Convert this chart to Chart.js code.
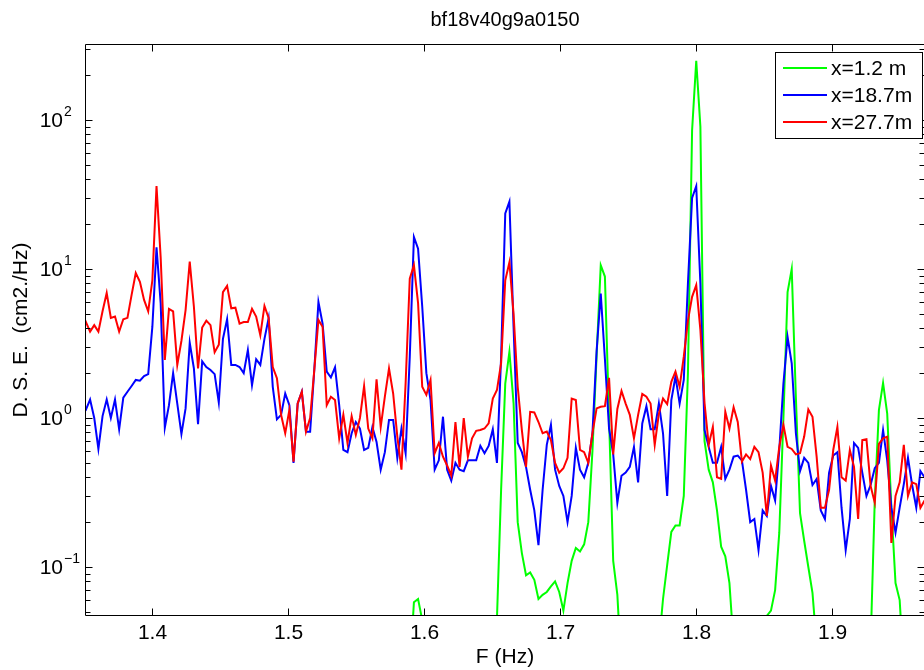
<!DOCTYPE html>
<html><head><meta charset="utf-8">
<script src="https://cdn.jsdelivr.net/npm/chart.js@4.4.0/dist/chart.umd.min.js"></script>
<style>
html,body{margin:0;padding:0;background:#fff;overflow:hidden;}
#c{position:absolute;left:0;top:0;width:930px;height:670px;}
</style></head><body>
<canvas id="c" width="930" height="670"></canvas>
<script>
// ---------- data ----------
const chartTitle = 'bf18v40g9a0150';
const xAxisTitle = 'F (Hz)';
const yAxisTitle = 'D. S. E.  (cm2./Hz)';
const seriesLabels = ['x=1.2 m', 'x=18.7m', 'x=27.7m'];
const seriesColors = ['#00ff00', '#0000ff', '#ff0000'];
const freqStart = 1.34864;   // first spectral bin (Hz)
const freqStep = 0.00305;    // bin width (Hz)
const xTickValues = [1.4, 1.5, 1.6, 1.7, 1.8, 1.9];
const yTickExponents = [-1, 0, 1, 2];
const xMin = 1.351, xMax = 1.9681;
const yMin = 0.0469, yMax = 323.6;

const dseX1_2 = [
 0.01,0.01,0.01,0.01,0.01,0.01,0.01,0.01,0.01,0.01,
 0.01,0.01,0.01,0.01,0.01,0.01,0.01,0.01,0.01,0.01,
 0.01,0.01,0.01,0.01,0.01,0.01,0.01,0.01,0.01,0.01,
 0.01,0.01,0.01,0.01,0.01,0.01,0.01,0.01,0.01,0.01,
 0.01,0.01,0.01,0.01,0.01,0.01,0.01,0.01,0.01,0.01,
 0.01,0.01,0.01,0.01,0.01,0.01,0.01,0.01,0.01,0.01,
 0.01,0.01,0.01,0.01,0.01,0.01,0.01,0.01,0.01,0.01,
 0.01,0.01,0.01,0.01,0.01,0.01,0.01,0.01,0.01,0.02,
 0.058,0.061,0.044,0.01,0.01,0.01,0.01,0.01,0.01,0.01,
 0.01,0.01,0.01,0.01,0.01,0.01,0.01,0.01,0.01,0.01,
 0.045,0.33,1.7,2.78,1.26,0.2,0.124,0.088,0.092,0.082,
 0.061,0.065,0.068,0.074,0.08,0.068,0.051,0.078,0.11,0.134,
 0.127,0.142,0.2,0.6,2.6,10.6,8.9,1.0,0.11,0.065,
 0.02,0.01,0.01,0.01,0.01,0.01,0.01,0.01,0.01,0.03,
 0.061,0.103,0.172,0.19,0.19,0.3,2.0,85,250,90,
 0.7,0.45,0.37,0.24,0.137,0.118,0.078,0.03,0.01,0.01,
 0.01,0.01,0.01,0.01,0.03,0.047,0.051,0.07,0.17,1.0,
 7.0,10.0,1.38,0.23,0.15,0.1,0.067,0.03,0.01,0.01,
 0.01,0.01,0.01,0.01,0.01,0.01,0.01,0.01,0.01,0.01,
 0.03,0.28,1.13,1.72,1.07,0.25,0.078,0.06,0.02,0.01,
 0.01,0.01,0.01,0.01
];
const dseX18_7 = [
 1.2,1.14,1.33,1.0,0.62,1.03,1.33,1.0,1.33,0.84,
 1.37,1.5,1.64,1.8,1.78,1.91,1.97,4.1,14,5.9,
 0.86,1.22,2.0,1.25,0.78,1.16,3.2,2.15,0.91,2.4,
 2.2,2.1,1.97,1.27,3.4,4.6,2.27,2.27,2.2,2.0,
 2.86,1.66,2.48,2.27,3.4,4.67,1.62,0.98,1.05,1.46,
 1.22,0.50,1.25,1.5,0.81,0.81,2.1,6.0,4.3,2.05,
 1.87,2.19,1.22,0.61,0.59,0.79,0.94,0.85,0.61,0.63,
 0.87,0.69,0.45,0.59,0.97,0.97,0.54,0.85,0.58,2.58,
 16.4,13.7,5.6,2.0,1.32,0.45,0.52,1.02,0.45,0.38,
 0.5,0.45,0.44,0.52,0.52,0.52,0.65,0.58,0.65,0.84,
 0.50,2.58,23.6,28.3,4.1,0.68,0.59,0.47,0.33,0.24,
 0.14,0.33,0.66,0.9,0.45,0.35,0.3,0.2,0.3,0.63,
 0.45,0.4,0.5,0.79,2.8,6.85,2.5,0.85,0.57,0.27,
 0.41,0.43,0.47,0.64,0.37,0.92,1.2,0.84,0.84,1.25,
 0.79,0.30,1.32,1.9,1.25,1.8,8,30,36,8,
 0.83,0.64,0.50,0.50,0.64,0.39,0.45,0.55,0.56,0.52,
 0.33,0.20,0.21,0.13,0.24,0.22,0.35,0.28,0.61,1.7,
 3.5,2.33,0.79,0.44,0.54,0.50,0.355,0.39,0.24,0.21,
 0.43,0.56,0.59,0.25,0.13,0.21,0.68,0.63,0.43,0.30,
 0.355,0.46,0.50,0.83,0.52,0.25,0.17,0.25,0.36,0.54,
 0.355,0.25,0.44,0.40
];
const dseX27_7 = [
 4.0,4.4,3.8,4.2,3.8,5.2,6.9,4.7,4.8,3.8,
 4.6,4.7,6.7,9.4,8.2,6.2,5.2,8.4,36,12,
 2.45,5.4,5.2,2.27,3.3,5.3,11.2,5.6,2.15,4.05,
 4.5,4.2,2.76,3.1,7.0,7.7,5.45,5.5,4.3,4.4,
 4.4,5.4,4.8,3.6,5.65,4.7,2.2,1.85,1.05,0.79,
 1.13,0.51,1.25,1.5,0.81,1.0,2.1,4.55,4.1,1.22,
 1.39,1.32,0.73,1.05,0.68,1.03,0.77,1.0,1.64,0.85,
 0.73,1.82,0.87,1.39,2.15,1.46,0.75,0.45,1.71,8.6,
 10.6,5.9,1.62,1.43,1.8,0.58,0.68,0.55,0.48,0.41,
 0.94,0.47,1.0,0.55,0.73,0.82,0.83,0.85,0.92,1.35,
 1.54,2.33,8.4,11.1,5.0,1.62,0.83,0.47,1.1,1.09,
 0.94,0.79,0.81,0.71,0.50,0.43,0.46,0.54,1.35,1.32,
 0.61,0.59,0.50,0.79,1.16,1.19,1.2,1.86,0.57,1.15,
 1.52,1.25,1.05,0.73,1.05,1.45,1.39,1.25,0.66,1.07,
 1.35,1.24,1.75,2.05,1.62,2.58,4.5,6.5,7.8,3.9,
 1.26,0.66,0.87,0.40,0.39,1.1,0.85,1.18,0.94,0.51,
 0.57,0.53,0.64,0.59,0.43,0.22,0.48,0.38,0.64,0.9,
 0.64,0.62,0.57,0.58,0.75,1.14,1.02,0.55,0.25,0.25,
 0.33,0.61,0.87,0.40,0.38,0.61,0.47,0.21,0.71,0.72,
 0.35,0.27,0.67,0.73,0.75,0.145,0.30,0.37,0.66,0.30,
 0.37,0.36,0.25,0.28
];

// ---------- chart ----------
const FONT = '"Liberation Sans", Arial, Helvetica, sans-serif';
const freqs = dseX27_7.map((_, i) => freqStart + i * freqStep);
const toXY = arr => arr.map((v, i) => ({x: freqs[i], y: v}));
const seriesData = [dseX1_2, dseX18_7, dseX27_7];

const axesPlugin = {
  id: 'matlabAxes',
  afterDraw(chart) {
    const {ctx, chartArea: a, scales: {x, y}} = chart;
    ctx.save();
    ctx.strokeStyle = '#000';
    ctx.fillStyle = '#000';
    ctx.lineWidth = 1;
    const L = Math.round(a.left) + 0.5, R = Math.round(a.right) - 0.5;
    const T = Math.round(a.top) + 0.5, B = Math.round(a.bottom) - 0.5;
    ctx.beginPath(); ctx.rect(L, T, R - L, B - T); ctx.stroke();
    // x ticks + labels
    ctx.font = '21px ' + FONT; ctx.textAlign = 'center'; ctx.textBaseline = 'middle';
    xTickValues.forEach(v => {
      const px = Math.round(x.getPixelForValue(v)) + 0.5;
      ctx.beginPath(); ctx.moveTo(px, B); ctx.lineTo(px, B - 7);
      ctx.moveTo(px, T); ctx.lineTo(px, T + 7); ctx.stroke();
      ctx.fillText(v.toFixed(1), px, B + 18);
    });
    // y minor ticks
    for (let e = -2; e <= 2; e++) {
      for (let m = 2; m <= 9; m++) {
        const v = m * Math.pow(10, e);
        if (v < yMin || v > yMax) continue;
        const py = Math.round(y.getPixelForValue(v)) + 0.5;
        ctx.beginPath(); ctx.moveTo(L, py); ctx.lineTo(L + 5, py);
        ctx.moveTo(R, py); ctx.lineTo(R - 5, py); ctx.stroke();
      }
    }
    // y major ticks + labels
    yTickExponents.forEach(e => {
      const py = Math.round(y.getPixelForValue(Math.pow(10, e))) + 0.5;
      ctx.beginPath(); ctx.moveTo(L, py); ctx.lineTo(L + 7, py);
      ctx.moveTo(R, py); ctx.lineTo(R - 7, py); ctx.stroke();
      ctx.font = '21px ' + FONT; ctx.textAlign = 'right'; ctx.textBaseline = 'middle';
      ctx.fillText('10', 63, py + 1);
      ctx.font = '14px ' + FONT; ctx.textAlign = 'left';
      ctx.fillText(e < 0 ? '\u2212' + Math.abs(e) : String(e), 64, py - 8);
    });
    // legend
    const lx = 775.5, ly = 52.5, lw = 147, lh = 86;
    ctx.fillStyle = '#fff'; ctx.fillRect(lx, ly, lw, lh);
    ctx.strokeStyle = '#000'; ctx.strokeRect(lx, ly, lw, lh);
    chart.data.datasets.forEach((ds, i) => {
      const ry = 68 + i * 27;
      ctx.strokeStyle = ds.borderColor; ctx.lineWidth = 2;
      ctx.beginPath(); ctx.moveTo(783, ry); ctx.lineTo(827, ry); ctx.stroke();
      ctx.fillStyle = '#000'; ctx.font = '21px ' + FONT;
      ctx.textAlign = 'left'; ctx.textBaseline = 'middle';
      ctx.fillText(ds.label, 831, ry + 1);
    });
    ctx.restore();
  }
};

new Chart(document.getElementById('c'), {
  type: 'line',
  data: {
    datasets: seriesData.map((arr, i) => ({
      label: seriesLabels[i],
      data: toXY(arr),
      borderColor: seriesColors[i],
      backgroundColor: seriesColors[i],
      borderWidth: 2,
      pointRadius: 0,
      tension: 0,
      fill: false,
      clip: 0,
      order: 3 - i
    }))
  },
  options: {
    responsive: false,
    animation: false,
    devicePixelRatio: 1,
    layout: {padding: {left: 0, right: 5, top: 0, bottom: 0}},
    plugins: {
      legend: {display: false},
      tooltip: {enabled: false},
      title: {
        display: true, text: chartTitle, fullSize: false, color: '#000',
        font: {family: FONT, size: 20, weight: 'normal'},
        padding: {top: 8, bottom: 12}
      }
    },
    scales: {
      x: {
        type: 'linear', min: xMin, max: xMax,
        grid: {display: false}, border: {display: false},
        ticks: {display: false},
        title: {display: true, text: xAxisTitle, color: '#000',
          font: {family: FONT, size: 21}, padding: {top: 0, bottom: 0}},
        afterFit(s) { s.height = 54; }
      },
      y: {
        type: 'logarithmic', min: yMin, max: yMax,
        grid: {display: false}, border: {display: false},
        ticks: {display: false},
        title: {display: true, text: yAxisTitle, color: '#000',
          font: {family: FONT, size: 21}, padding: {top: 9, bottom: 0}},
        afterFit(s) { s.width = 85; }
      }
    }
  },
  plugins: [axesPlugin]
});
</script></body></html>
